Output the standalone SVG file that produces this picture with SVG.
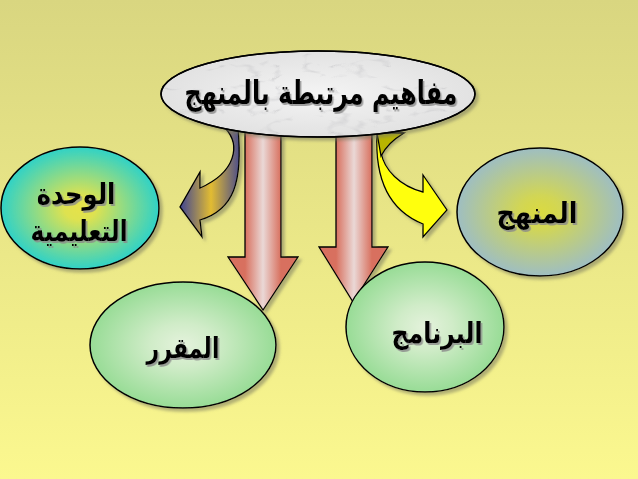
<svg xmlns="http://www.w3.org/2000/svg" width="638" height="479" viewBox="0 0 638 479">
<style>
.edge{stroke:#000;stroke-width:1.3;stroke-linejoin:miter}
.node{stroke:#000;stroke-width:1.5}
.lbl{font-family:"DejaVu Sans",sans-serif;font-weight:bold;fill:#000;text-anchor:middle;filter:url(#tsh)}
</style>
<defs>
<linearGradient id="bg" x1="0" y1="0" x2="0" y2="1">
<stop offset="0" stop-color="#d9d680"/>
<stop offset="1" stop-color="#fbf88f"/>
</linearGradient>
<linearGradient id="ar1" gradientUnits="userSpaceOnUse" x1="245" y1="0" x2="281" y2="0">
<stop offset="0" stop-color="#d8705e"/>
<stop offset="0.5" stop-color="#ead8d6"/>
<stop offset="1" stop-color="#d8705e"/>
</linearGradient>
<linearGradient id="ar2" gradientUnits="userSpaceOnUse" x1="336" y1="0" x2="372" y2="0">
<stop offset="0" stop-color="#d8705e"/>
<stop offset="0.5" stop-color="#ead8d6"/>
<stop offset="1" stop-color="#d8705e"/>
</linearGradient>
<linearGradient id="navy" gradientUnits="userSpaceOnUse" x1="182" y1="0" x2="240" y2="0">
<stop offset="0" stop-color="#4a4c8c"/>
<stop offset="0.5" stop-color="#e2bc32"/>
<stop offset="1" stop-color="#4a4c8c"/>
</linearGradient>
<radialGradient id="gCyan" cx="0.5" cy="0.5" r="0.5">
<stop offset="0" stop-color="#e6e24a"/>
<stop offset="0.2" stop-color="#dee250"/>
<stop offset="1" stop-color="#30d2c6"/>
</radialGradient>
<radialGradient id="gGray" cx="0.5" cy="0.5" r="0.5">
<stop offset="0" stop-color="#dada40"/>
<stop offset="0.25" stop-color="#d2d654"/>
<stop offset="1" stop-color="#9ebec2"/>
</radialGradient>
<radialGradient id="gGreen" cx="0.5" cy="0.5" r="0.5">
<stop offset="0" stop-color="#e4f2dc"/>
<stop offset="0.35" stop-color="#d0ecc8"/>
<stop offset="1" stop-color="#98dc96"/>
</radialGradient>
<radialGradient id="gMarble" cx="0.5" cy="0.5" r="0.5">
<stop offset="0" stop-color="#f4f4f4"/>
<stop offset="1" stop-color="#e2e2e2"/>
</radialGradient>
<filter id="marble" x="0" y="0" width="1" height="1">
<feTurbulence type="turbulence" baseFrequency="0.018 0.045" numOctaves="3" seed="7"/>
<feColorMatrix type="matrix" values="0 0 0 0 0.55  0 0 0 0 0.55  0 0 0 0 0.57  -3 0 0 0 0.45"/>
<feComposite in2="SourceGraphic" operator="in"/>
</filter>
<filter id="sh" x="-10%" y="-10%" width="125%" height="125%">
<feDropShadow dx="3" dy="3" stdDeviation="1.5" flood-color="#7a7a60" flood-opacity="0.55"/>
</filter>
<filter id="tsh" x="-10%" y="-20%" width="125%" height="150%">
<feDropShadow dx="2" dy="2" stdDeviation="0.6" flood-color="#8a8a8a" flood-opacity="0.8"/>
</filter>
</defs>
<rect x="0" y="0" width="638" height="479" fill="url(#bg)"/>

<g id="connectors">
<path class="edge" filter="url(#sh)" fill="url(#navy)" d="M225,128 C241,145 236,172 200,188 L200,172 L180,207 L202,237 L200,220 C234,210 243,182 238,128 Z"/>
<path class="edge" filter="url(#sh)" fill="#ffff10" d="M377,133 C374,190 398,214 423,224 L423,237 L447,210 L423,175 L423,192 C400,186 384,170 381,152 C388,142 396,136 404,133 Z"/>
<path class="edge" fill="#b8b400" d="M377,133 L404,133 C394,139 386,146 381,156 Z"/>
<path class="edge" filter="url(#sh)" fill="url(#ar1)" d="M245,120 L281,120 L281,257 L298,257 L263,310 L228,257 L245,257 Z"/>
<path class="edge" filter="url(#sh)" fill="url(#ar2)" d="M336,120 L372,120 L372,247 L388,247 L353,302 L319,247 L336,247 Z"/>
</g>

<g id="node-top">
<ellipse class="node" filter="url(#sh)" cx="318" cy="94" rx="157" ry="43" fill="url(#gMarble)"/>
<ellipse cx="318" cy="94" rx="157" ry="43" fill="#fff" filter="url(#marble)"/>
<ellipse cx="318" cy="94" rx="157" ry="43" fill="none" stroke="#000" stroke-width="1.5"/>
<text class="lbl" transform="translate(321,104) scale(0.72,1)" x="0" y="0" font-size="33">مفاهيم مرتبطة بالمنهج</text>
</g>

<g id="node-unit">
<ellipse class="node" filter="url(#sh)" cx="80" cy="208" rx="79" ry="61" fill="url(#gCyan)"/>
<text class="lbl" transform="translate(76,204) scale(0.84,1)" x="0" y="0" font-size="29">الوحدة</text>
<text class="lbl" transform="translate(79,241) scale(0.8,1)" x="0" y="0" font-size="29">التعليمية</text>
</g>

<g id="node-curriculum">
<ellipse class="node" filter="url(#sh)" cx="540" cy="212" rx="83" ry="64" fill="url(#gGray)"/>
<text class="lbl" transform="translate(537,223) scale(0.88,1)" x="0" y="0" font-size="29">المنهج</text>
</g>

<g id="node-course">
<ellipse class="node" filter="url(#sh)" cx="183" cy="345" rx="93" ry="63" fill="url(#gGreen)"/>
<text class="lbl" transform="translate(183,358) scale(0.76,1)" x="0" y="0" font-size="29">المقرر</text>
</g>

<g id="node-program">
<ellipse class="node" filter="url(#sh)" cx="425" cy="327" rx="79" ry="65" fill="url(#gGreen)"/>
<text class="lbl" transform="translate(437,343) scale(0.82,1)" x="0" y="0" font-size="29">البرنامج</text>
</g>
</svg>
